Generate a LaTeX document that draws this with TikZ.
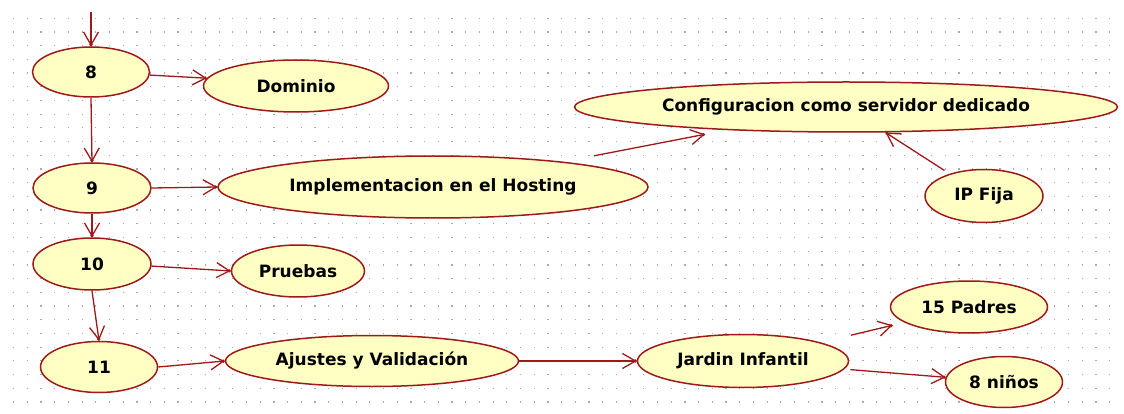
\documentclass[tikz,border=0pt]{standalone}
\usepackage{fontspec}
\setmainfont{DejaVu Sans}
\usetikzlibrary{shapes.geometric,arrows.meta}
\definecolor{edgered}{HTML}{9E1A1A}
\definecolor{ucfill}{HTML}{FFFFC4}
\definecolor{griddot}{HTML}{AAAAAA}
\tikzset{
  uc/.style={ellipse, draw=edgered, fill=ucfill, line width=1.5pt, inner sep=0pt,
    font=\fontsize{17}{20}\selectfont\bfseries, text=black},
  flow/.style={draw=edgered, line width=1.3pt,
    -{Straight Barb[length=13pt,width=15pt,sep=-3pt]Circle[length=3pt]}},
}
\begin{document}
\begin{tikzpicture}[x=1pt,y=-1pt]
\useasboundingbox (0,0) rectangle (1124,414);
\fill[white] (0,0) rectangle (1124,414);
% dotted grid
\foreach \r in {0,...,28}{
  \draw[griddot, line width=1.2pt, dash pattern=on 1.2pt off 12.5pt] (13,18.3+13.7*\r) -- (1117,18.3+13.7*\r);
}
% nodes
\node[uc, minimum width=117pt, minimum height=50pt] (n8) at (91,72) {8};
\node[uc, minimum width=185pt, minimum height=52pt] (dom) at (296,86) {Dominio};
\node[uc, minimum width=118pt, minimum height=50pt] (n9) at (92,188) {9};
\node[uc, minimum width=430pt, minimum height=62pt] (host) at (433,187) {Implementacion en el Hosting};
\node[uc, minimum width=543pt, minimum height=50pt] (conf) at (846,107) {Configuracion como servidor dedicado};
\node[uc, minimum width=118pt, minimum height=53pt] (ipf) at (984,196) {IP Fija};
\node[uc, minimum width=118pt, minimum height=52pt] (n10) at (92,264) {10};
\node[uc, minimum width=133pt, minimum height=52pt] (pru) at (298,271) {Pruebas};
\node[uc, minimum width=117pt, minimum height=51pt] (n11) at (99,367) {11};
\node[uc, minimum width=293pt, minimum height=51pt] (aju) at (372,361) {Ajustes y Validación};
\node[uc, minimum width=211pt, minimum height=53pt] (jar) at (743,361) {Jardin Infantil};
\node[uc, minimum width=157pt, minimum height=52pt] (pad) at (969,307) {15 Padres};
\node[uc, minimum width=117pt, minimum height=51pt] (nin) at (1004,382) {8 niños};
\coordinate (topin) at (91,12);
% connectors
\draw[flow] (topin) -- (n8.north);
\draw[flow] (n8.-3) -- (dom.175);
\draw[flow] (n8.south) -- (n9.north);
\draw[flow] (n9.east) -- (host.west);
\draw[flow, shorten <=31pt, shorten >=22pt] (host) -- (conf);
\draw[flow, shorten <=6pt] (ipf) -- (conf);
\draw[flow] (n9.south) -- (n10.north);
\draw[flow] (n10.-2) -- (pru.west);
\draw[flow] (n10.south) -- (n11.north);
\draw[flow] (n11.east) -- (aju.west);
\draw[flow] (aju.east) -- (jar.west);
\draw[flow, shorten <=31pt, shorten >=12pt] (jar) -- (pad);
\draw[flow, shorten <=6pt] (jar) -- (nin);
\end{tikzpicture}
\end{document}
